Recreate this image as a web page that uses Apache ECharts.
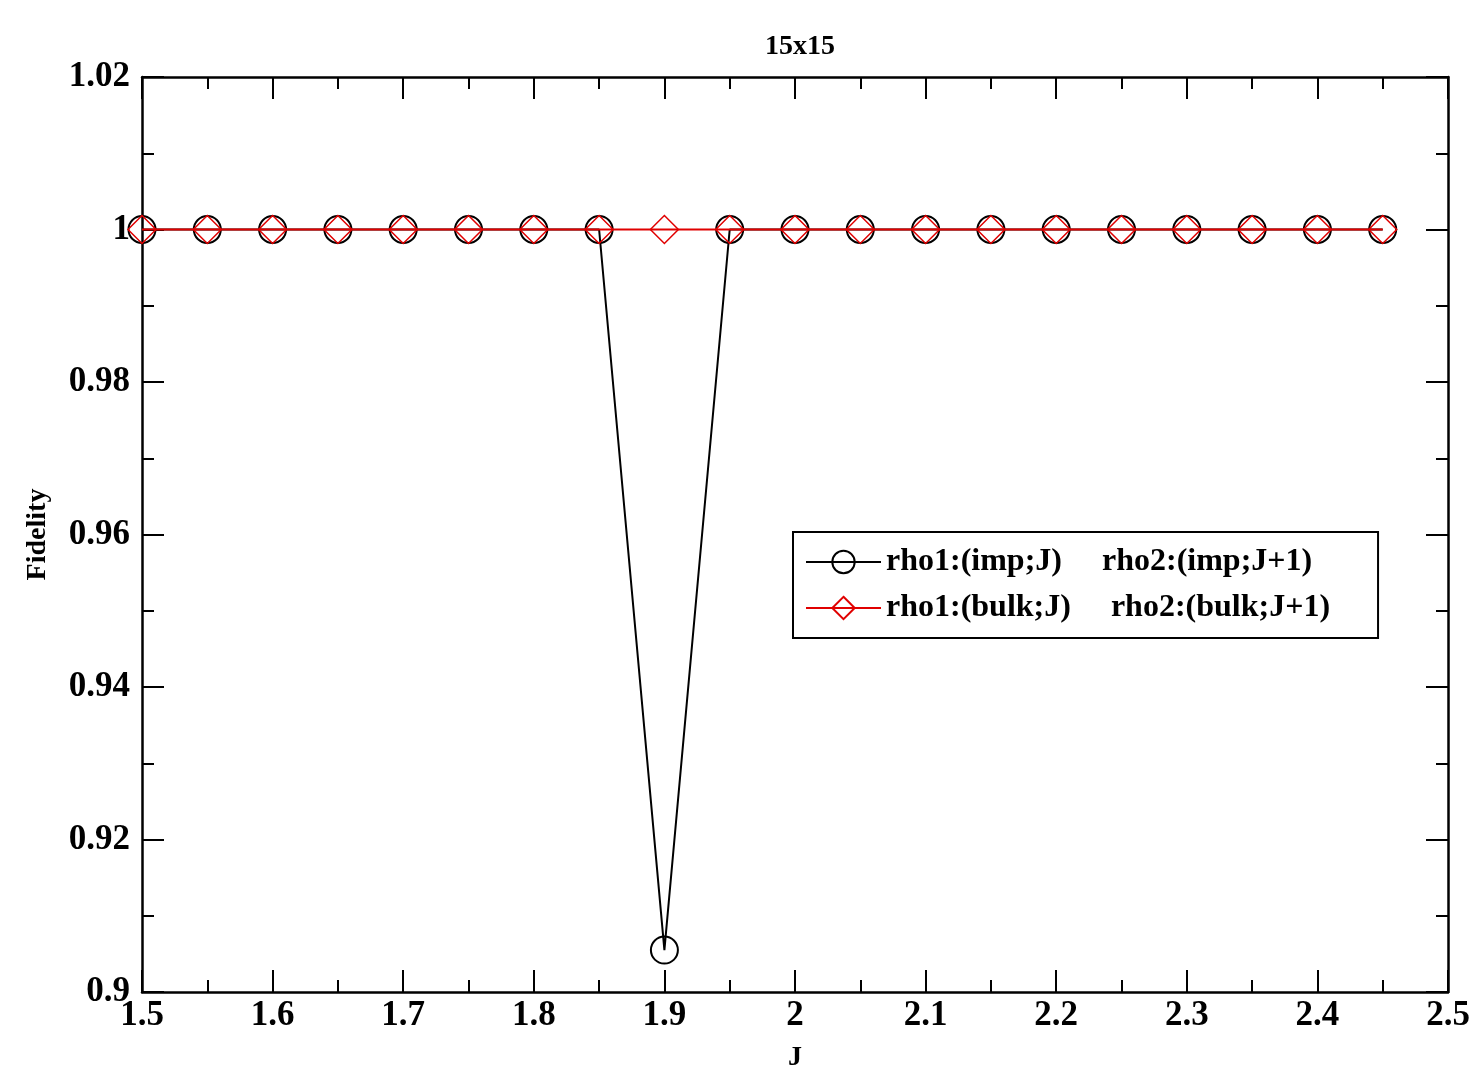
<!DOCTYPE html>
<html>
<head>
<meta charset="utf-8">
<script src="https://cdn.jsdelivr.net/npm/echarts@6/dist/echarts.min.js"></script>
<style>
  html, body { margin: 0; padding: 0; background: #fff; }
  #chart { width: 1482px; height: 1068px; }
</style>
</head>
<body>
<div id="chart"></div>
<script>
// J values and fidelities
var jValues = [1.5, 1.55, 1.6, 1.65, 1.7, 1.75, 1.8, 1.85, 1.9, 1.95,
               2.0, 2.05, 2.1, 2.15, 2.2, 2.25, 2.3, 2.35, 2.4, 2.45]
var impFidelity = [1, 1, 1, 1, 1, 1, 1, 1, 0.9055, 1,
                   1, 1, 1, 1, 1, 1, 1, 1, 1, 1]
var bulkFidelity = [1, 1, 1, 1, 1, 1, 1, 1, 1, 1,
                    1, 1, 1, 1, 1, 1, 1, 1, 1, 1]
var seriesNames = ['rho1:(imp;J)     rho2:(imp;J+1)', 'rho1:(bulk;J)     rho2:(bulk;J+1)']

function pairs (xs, ys) {
  return xs.map(function (x, i) { return [x, ys[i]] })
}

var font = 'Liberation Serif'
var tickCommon = {
  axisLine: { show: true, lineStyle: { color: '#000', width: 2.5 } },
  axisTick: { show: true, inside: true, length: 22, lineStyle: { color: '#000', width: 2 } },
  minorTick: { show: true, splitNumber: 2, length: 12, lineStyle: { color: '#000', width: 2 } },
  splitLine: { show: false },
  minorSplitLine: { show: false }
}

function axis (extra) {
  return Object.assign({}, JSON.parse(JSON.stringify(tickCommon)), extra)
}

var labelStyle = { color: '#000', fontFamily: font, fontWeight: 'bold', fontSize: 35 }

var myChart = echarts.init(document.getElementById('chart'))
myChart.setOption({
  backgroundColor: '#fff',
  animation: false,
  title: {
    text: '15x15',
    left: 760,
    top: 28,
    textStyle: { color: '#000', fontFamily: font, fontWeight: 'bold', fontSize: 28 }
  },
  grid: { left: 142, right: 34, top: 77, bottom: 76, containLabel: false, outerBoundsMode: 'none' },
  xAxis: [
    axis({
      type: 'value', min: 1.5, max: 2.5, interval: 0.1, position: 'bottom',
      name: 'J', nameLocation: 'middle', nameGap: 52,
      nameTextStyle: { color: '#000', fontFamily: font, fontWeight: 'bold', fontSize: 28 },
      axisLabel: Object.assign({ margin: 6 }, labelStyle)
    }),
    axis({
      type: 'value', min: 1.5, max: 2.5, interval: 0.1, position: 'top',
      axisLabel: { show: false }
    })
  ],
  yAxis: [
    axis({
      type: 'value', min: 0.9, max: 1.02, interval: 0.02, position: 'left',
      name: 'Fidelity', nameLocation: 'middle', nameGap: 90, nameRotate: 90,
      nameTextStyle: { color: '#000', fontFamily: font, fontWeight: 'bold', fontSize: 28 },
      axisLabel: Object.assign({ margin: 12 }, labelStyle)
    }),
    axis({
      type: 'value', min: 0.9, max: 1.02, interval: 0.02, position: 'right',
      axisLabel: { show: false }
    })
  ],
  legend: {
    orient: 'vertical',
    left: 793,
    top: 532,
    padding: [14, 48, 14, 12],
    itemGap: 14,
    itemWidth: 75,
    itemHeight: 28,
    borderColor: '#000',
    borderWidth: 2,
    backgroundColor: '#fff',
    textStyle: { color: '#000', fontFamily: font, fontWeight: 'bold', fontSize: 32 },
    data: seriesNames
  },
  series: [
    {
      name: seriesNames[0],
      type: 'line',
      data: pairs(jValues, impFidelity),
      symbol: 'circle',
      symbolSize: 27,
      lineStyle: { color: '#000', width: 2 },
      itemStyle: { color: 'transparent', borderColor: '#000', borderWidth: 2 },
      z: 2
    },
    {
      name: seriesNames[1],
      type: 'line',
      data: pairs(jValues, bulkFidelity),
      symbol: 'diamond',
      symbolSize: [28, 28],
      lineStyle: { color: '#e00000', width: 2 },
      itemStyle: { color: 'transparent', borderColor: '#e00000', borderWidth: 1.5 },
      z: 3
    }
  ]
})
</script>
</body>
</html>
